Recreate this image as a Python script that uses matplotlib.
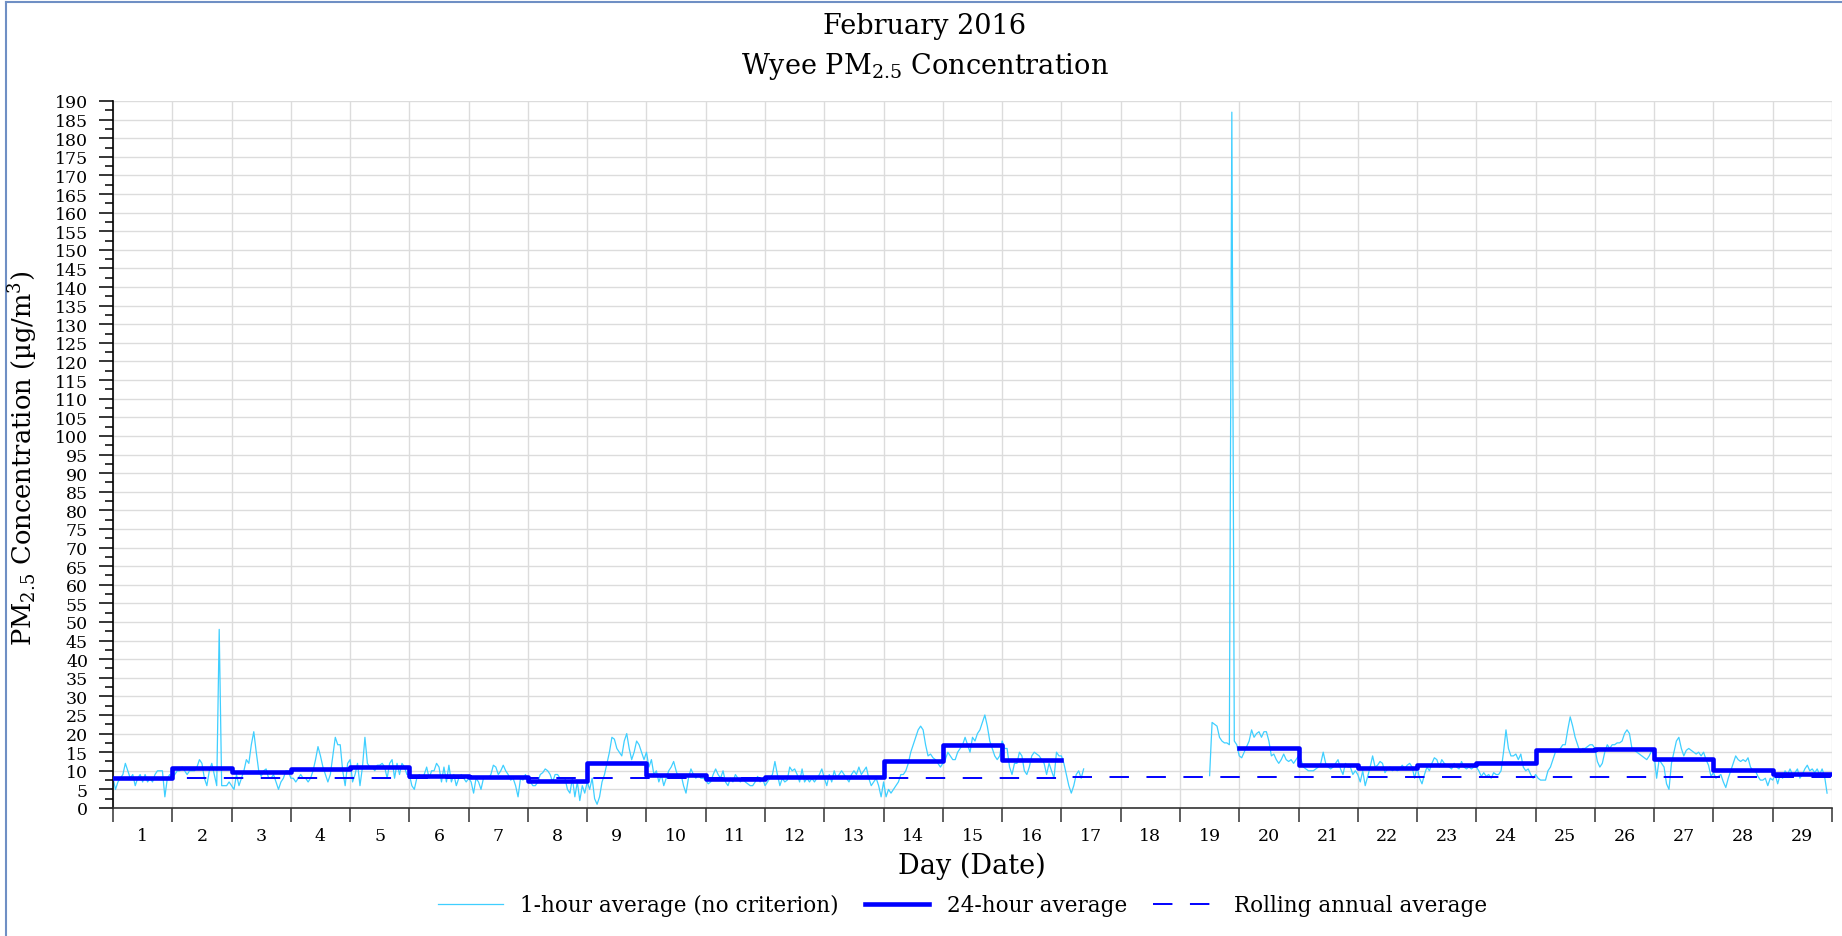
import numpy as np
import matplotlib
matplotlib.use('Agg')
import matplotlib.pyplot as plt
from matplotlib.lines import Line2D

plt.rcParams['font.family'] = 'DejaVu Serif'
plt.rcParams['mathtext.fontset'] = 'dejavuserif'

# --- data ---
day_labels = [str(d) for d in range(1, 30)]

# 1-hour averages per day, hours 0..23 (None = no data)
h01 = [8, 5, 7, 8, 9, 12, 10, 8, 9, 6, 8, 9, 7, 9, 7, 8, 7, 9, 10, 10, 10, 3, 8, 9]
h02 = [8, 9, 10, 10, 11, 10, 9, 10, 10, 10, 11, 13, 12, 8, 6, 10, 12, 9, 6, 48, 6, 6, 6, 7]
h03 = [6, 5, 9, 6, 8, 10, 13, 12, 17, 20.5, 15, 10, 8.5, 10, 10.5, 8, 8, 9, 7, 5, 7, 8, 10, 10]
h04 = [8, 8, 7, 8, 9, 8, 8, 7, 8, 10, 13, 16.5, 14, 11, 9, 7, 9, 14, 19, 17, 17, 10, 6, 12]
h05 = [13, 7, 9, 12, 6, 11, 19, 12, 11, 11, 10, 11.5, 11.5, 12, 11, 8, 12, 13, 8, 12, 9, 12, 11, 9]
h06 = [9, 6, 5, 8, 9, 8, 9, 11, 8, 10, 10, 12, 11, 7, 11, 7, 11.5, 7, 9, 6, 8, 9, 8, 7]
h07 = [8, 7, 4, 8, 7, 5, 8, 8, 8, 9, 11.5, 11, 9, 10, 11.5, 10, 9, 7.5, 8, 6, 3, 8, 7.5, 9]
h08 = [7, 7, 6, 6, 7, 9, 9.5, 10.5, 10, 9, 7, 9, 9, 8, 8, 8, 5, 4, 8, 3, 7, 2, 6, 4]
h09 = [7, 5, 8, 2.5, 1, 3, 7, 9, 12, 15, 19, 18.5, 16, 15, 14, 18, 20, 16, 13, 15, 18, 17, 15, 13]
h10 = [15, 11, 13, 9, 10, 7, 9, 6, 8, 10, 11, 12.5, 10, 8, 9, 6, 4, 8, 10.5, 9, 8, 9, 8, 8]
h11 = [7.5, 6.5, 7, 9, 10.5, 9, 8, 10, 7, 6, 8, 7, 9, 8, 7, 8, 7, 6.5, 6, 6, 7, 8.5, 7, 8]
h12 = [6, 7, 8, 9, 12.5, 9, 6, 8, 7, 7.5, 11, 10, 10.5, 9, 7, 10.5, 7, 8, 7, 8, 7, 8, 9, 10.5]
h13 = [8, 6, 9, 7, 10, 8, 9, 10, 9, 8, 7, 9, 10, 9, 11, 9, 10, 11, 8, 6, 7, 8, 6, 3]
h14 = [7, 3, 5, 4, 5, 6, 7, 9, 9, 10, 12, 15, 17, 19, 21, 22, 21, 17, 14, 14.5, 13.5, 13, 12, 11]
h15 = [12, 13, 15, 14, 13, 13, 15, 16, 17, 19, 17, 15, 19, 18, 20, 21, 23, 25, 22, 18, 16, 14, 13, 14]
h16 = [18, 16, 16, 11, 9, 12, 12, 15, 14, 10, 9, 11, 14, 15, 14.5, 14, 13, 12, 9, 12, 10, 8, 15, 14]
h17 = [14, 12, 9, 6, 4, 6, 9, 10, 8, 10.5] + [None] * 14
h18 = [None] * 24
h19 = [None] * 12 + [8.7, 23, 22.5, 22, 19, 18, 17.5, 17.5, 17, 187, 18, 17]
h20 = [14, 13.5, 15, 16.5, 18, 21, 19, 20, 20.5, 19, 20.5, 20.5, 18, 14, 14.5, 13, 12, 13, 14.5, 13, 12.5, 13, 12, 13]
h21 = [14, 13, 11, 10.5, 10, 10, 10, 10.5, 11, 12, 15, 12, 11, 10.5, 11, 12, 13, 10.5, 9, 12, 11, 11, 9, 10]
h22 = [9, 7, 10, 6, 8.5, 11, 14, 11, 11.5, 12.5, 12, 9.5, 10.5, 11, 10, 10.5, 10, 10.5, 11.5, 10.5, 11.5, 12, 11, 8]
h23 = [11, 8, 6.5, 9, 11, 10, 12, 13.5, 13, 11, 13, 12, 11.5, 11, 10.5, 12, 11, 10.5, 12.5, 11, 10.5, 11, 10.5, 11]
h24 = [11, 10, 8.5, 9.5, 8.5, 9, 8, 9.5, 9, 9, 10, 15, 21, 16, 14, 14, 14.5, 13, 14.5, 11, 10, 10.5, 9, 8]
h25 = [9, 8, 7.5, 7.5, 7.5, 10, 11, 13, 15, 15.5, 16, 17, 17, 21, 24.5, 22, 19, 17, 15, 16, 16, 16.5, 17, 17]
h26 = [16, 12.5, 11, 12, 15, 17, 16, 17, 17, 17.5, 17.5, 18, 20, 21, 20, 16, 15.5, 15, 14.5, 14, 13.5, 13, 14, 15.5]
h27 = [14, 8, 13, 12, 11, 6.5, 5, 12, 15, 18, 19, 16, 14, 15.5, 16, 15.5, 15, 14.5, 15, 14, 15, 13, 11.5, 8.5]
h28 = [9.5, 8, 8.5, 9, 7, 5.5, 8, 10, 12, 14, 13, 12.5, 13, 12.5, 13.5, 11, 10, 10, 8.5, 7.5, 7.5, 8, 6, 8]
h29 = [7.5, 9, 6.5, 9, 8, 10, 9, 10.5, 9, 9.5, 10.5, 8, 9, 10.5, 11.5, 10, 10.5, 9.5, 10.5, 9, 10.5, 8.5, 4, None]

hourly_days = [h01, h02, h03, h04, h05, h06, h07, h08, h09, h10, h11, h12, h13, h14, h15,
               h16, h17, h18, h19, h20, h21, h22, h23, h24, h25, h26, h27, h28, h29]

avg24 = [8.0, 10.8, 9.8, 10.5, 11.0, 8.7, 8.2, 7.3, 12.0, 8.8, 7.8, 8.2, 8.3, 12.5, 17.0,
         12.8, None, None, None, 16.0, 11.5, 10.8, 11.5, 12.0, 15.5, 15.8, 13.2, 10.2, 9.2]

rolling_annual = [8.0, 8.0, 8.0, 8.0, 8.0, 8.0, 8.0, 8.0, 8.0, 8.1, 8.1, 8.1, 8.1, 8.1, 8.1,
                  8.1, 8.2, 8.2, 8.2, 8.2, 8.2, 8.2, 8.2, 8.3, 8.3, 8.3, 8.3, 8.3, 8.3]

# --- build series ---
hx, hy = [], []
for d, vals in enumerate(hourly_days):
    for h, v in enumerate(vals):
        hx.append(d + h / 24.)
        hy.append(np.nan if v is None else v)

edges = np.arange(len(avg24) + 1)
a24 = [np.nan if v is None else v for v in avg24]
a24 = a24 + [a24[-1]]
ra = rolling_annual + [rolling_annual[-1]]

W, H = 1842, 937
fig = plt.figure(figsize=(W / 100., H / 100.), dpi=100)
ax = fig.add_axes([113. / W, 1 - 809. / H, (1832. - 113.) / W, (809. - 102.) / H])

ax.plot(hx, hy, color='#3FCFFF', lw=0.9, zorder=2, label='1-hour average (no criterion)')
ax.step(edges, a24, where='post', color='#0000FF', lw=3.3, zorder=4, label='24-hour average')
ax.step(edges, ra, where='post', color='#0000FF', lw=1.4, zorder=3,
        dashes=(10, 9), label='Rolling annual average')

ax.set_xlim(0, 29)
ax.set_ylim(0, 190)

ax.set_xticks(np.arange(30))
ax.set_xticklabels([])
ax.set_xticks(np.arange(29) + 0.5, minor=True)
ax.set_xticklabels(day_labels, minor=True, fontsize=12.5)
ax.tick_params(axis='x', which='major', length=10, width=1.1, color='#333333')
ax.tick_params(axis='x', which='minor', length=0, pad=14)

ax.set_yticks(np.arange(0, 191, 5))
ax.set_yticks(np.arange(2.5, 190, 5), minor=True)
ax.tick_params(axis='y', which='major', length=10, width=1.1, labelsize=12.5, pad=8)
ax.tick_params(axis='y', which='minor', length=6, width=1.1)

ax.grid(True, which='major', color='#dcdcdc', lw=1.0, zorder=0)
ax.set_axisbelow(True)
for s in ['top', 'right']:
    ax.spines[s].set_visible(False)
ax.spines['left'].set_linewidth(1.2)
ax.spines['bottom'].set_linewidth(1.2)
ax.spines['bottom'].set_color('#333333')

fig.text(925. / W, 1 - 27. / H, 'February 2016', ha='center', va='center', fontsize=19.5)
fig.text(925. / W, 1 - 66. / H, 'Wyee PM$_{2.5}$ Concentration', ha='center', va='center', fontsize=19.5)
fig.text(972. / W, 1 - 866. / H, 'Day (Date)', ha='center', va='center', fontsize=19.5)
fig.text(23. / W, 1 - 458. / H, 'PM$_{2.5}$ Concentration (\u00b5g/m$^3$)', ha='center', va='center',
         rotation=90, fontsize=18.5)

fig.legend(loc='center', bbox_to_anchor=(963. / W, 1 - 906. / H), ncol=3, frameon=False,
           fontsize=15.5, handlelength=3.0, handletextpad=0.8, columnspacing=1.2)

# outer border (left and top)
bc = '#6f8fc4'
fig.add_artist(Line2D([5.5 / W, 5.5 / W], [0, 1 - 2.5 / H], color=bc, lw=1.5))
fig.add_artist(Line2D([5.5 / W, 1], [1 - 2.5 / H, 1 - 2.5 / H], color=bc, lw=1.5))

fig.savefig('out.png', dpi=100)
